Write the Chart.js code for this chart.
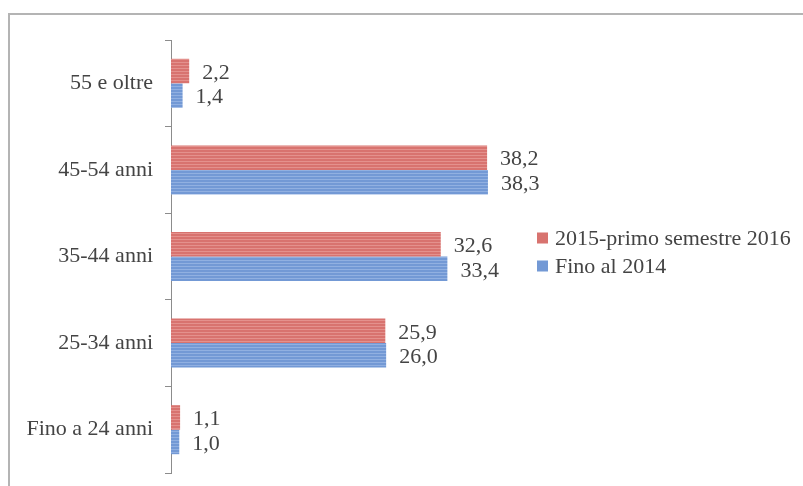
<!DOCTYPE html>
<html>
<head>
<meta charset="utf-8">
<script src="https://cdn.jsdelivr.net/npm/chart.js@4.4.0/dist/chart.umd.min.js"></script>
<style>
  html, body { margin: 0; padding: 0; background: #fff; overflow: hidden; }
  #frame { position: absolute; left: 8px; top: 13px; width: 900px; height: 600px;
           border-left: 2px solid #b4b4b4; border-top: 2px solid #b4b4b4; }
  #wrap { position: absolute; left: 0; top: 0; width: 803px; height: 486px; }
</style>
</head>
<body>
<div id="frame"></div>
<div id="wrap"><canvas id="c" width="803" height="486"></canvas></div>
<script>
const categories = ['55 e oltre', '45-54 anni', '35-44 anni', '25-34 anni', 'Fino a 24 anni'];
const seriesNames = ['2015-primo semestre 2016', 'Fino al 2014'];
const values2015_2016 = [2.2, 38.2, 32.6, 25.9, 1.1];
const valuesFino2014 = [1.4, 38.3, 33.4, 26.0, 1.0];

const seriesColors = ['#d8736f', '#7399d5'];
const seriesStripe = ['#e4918d', '#91b0e1'];

function stripes(c1, c2) {
  const p = document.createElement('canvas');
  p.width = 4; p.height = 3;
  const g = p.getContext('2d');
  g.fillStyle = c1; g.fillRect(0, 0, 4, 2);
  g.fillStyle = c2; g.fillRect(0, 2, 4, 1);
  return g.createPattern(p, 'repeat');
}

const FONT = 'Liberation Serif';
const TXT = '#444444';

const valueLabels = {
  id: 'valueLabels',
  afterDatasetsDraw(chart) {
    const ctx = chart.ctx;
    ctx.save();
    ctx.font = '22px "' + FONT + '"';
    ctx.fillStyle = TXT;
    ctx.textAlign = 'left';
    ctx.textBaseline = 'middle';
    chart.data.datasets.forEach((ds, di) => {
      const meta = chart.getDatasetMeta(di);
      meta.data.forEach((el, i) => {
        const t = ds.data[i].toFixed(1).replace('.', ',');
        ctx.fillText(t, el.x + 13, el.y + 2);
      });
    });
    ctx.restore();
  }
};

const sideLegend = {
  id: 'sideLegend',
  afterDraw(chart) {
    const ctx = chart.ctx;
    ctx.save();
    ctx.font = '22px "' + FONT + '"';
    ctx.textAlign = 'left';
    ctx.textBaseline = 'middle';
    const x0 = 537, y0 = 238, step = 28;
    chart.data.datasets.forEach((ds, i) => {
      const cy = y0 + i * step;
      ctx.fillStyle = seriesColors[i];
      ctx.fillRect(x0, cy - 5.5, 11, 11);
      ctx.fillStyle = TXT;
      ctx.fillText(ds.label, x0 + 18, cy + 1);
    });
    ctx.restore();
  }
};

new Chart(document.getElementById('c'), {
  type: 'bar',
  data: {
    labels: categories,
    datasets: [
      { label: seriesNames[0], data: values2015_2016, backgroundColor: stripes(seriesColors[0], seriesStripe[0]), borderWidth: 0 },
      { label: seriesNames[1], data: valuesFino2014, backgroundColor: stripes(seriesColors[1], seriesStripe[1]), borderWidth: 0 }
    ]
  },
  options: {
    indexAxis: 'y',
    responsive: false,
    animation: false,
    events: [],
    layout: { padding: { top: 40, bottom: 13, left: 0, right: 301 } },
    datasets: { bar: { categoryPercentage: 0.566, barPercentage: 1.0 } },
    scales: {
      x: {
        display: false,
        min: 0,
        max: 40
      },
      y: {
        afterFit(s) { s.width = 171; s.paddingTop = 0; s.paddingBottom = 0; },
        border: { display: true, color: '#8c8c8c', width: 1 },
        grid: { display: true, drawOnChartArea: false, drawTicks: true, tickLength: 6, color: '#8c8c8c', offset: true },
        ticks: { font: { family: FONT, size: 22 }, color: TXT, padding: 12 }
      }
    },
    plugins: {
      legend: { display: false },
      tooltip: { enabled: false }
    }
  },
  plugins: [valueLabels, sideLegend]
});
</script>
</body>
</html>
